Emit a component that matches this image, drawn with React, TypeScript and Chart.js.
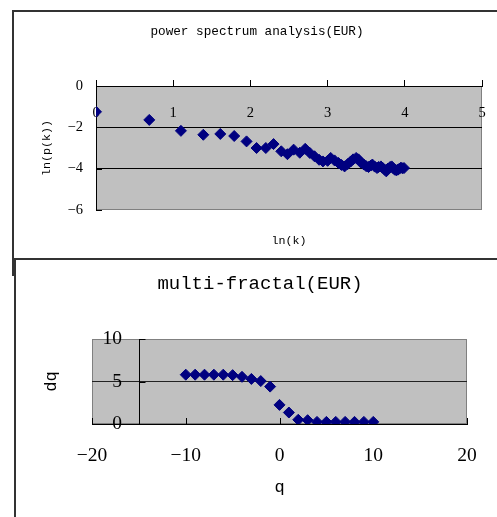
import React, { useEffect, useRef } from 'react';
import { Chart, registerables } from 'chart.js';

Chart.register(...registerables);

// ---- power spectrum (top chart) ----
const lnK = [0, 0.69, 1.10, 1.39, 1.61, 1.79, 1.95, 2.08, 2.20, 2.30, 2.40, 2.48, 2.56, 2.64, 2.71, 2.77, 2.83, 2.89, 2.94, 3.00, 3.04, 3.09, 3.14, 3.18, 3.22, 3.26, 3.30, 3.33, 3.37, 3.40, 3.43, 3.47, 3.50, 3.53, 3.56, 3.58, 3.61, 3.64, 3.66, 3.69, 3.71, 3.74, 3.76, 3.78, 3.81, 3.83, 3.85, 3.87, 3.89, 3.91, 3.93, 3.95, 3.97, 3.99];
const lnP = [-1.25, -1.64, -2.17, -2.36, -2.32, -2.42, -2.68, -3.0, -3.0, -2.81, -3.16, -3.3, -3.08, -3.23, -3.04, -3.24, -3.4, -3.57, -3.65, -3.62, -3.48, -3.6, -3.72, -3.82, -3.89, -3.78, -3.65, -3.55, -3.48, -3.55, -3.7, -3.8, -3.88, -3.92, -3.85, -3.8, -3.9, -3.97, -3.92, -3.89, -3.95, -4.05, -4.13, -4.0, -3.92, -3.89, -3.98, -4.05, -4.08, -4.05, -4.0, -3.95, -3.98, -3.97];
const topTitle = 'power spectrum analysis(EUR)';
const topXTitle = 'ln(k)';
const topYTitle = 'ln(p(k))';

// ---- multi-fractal (bottom chart) ----
const qVals = [-10, -9, -8, -7, -6, -5, -4, -3, -2, -1, 0, 1, 2, 3, 4, 5, 6, 7, 8, 9, 10];
const dqVals = [5.8, 5.8, 5.8, 5.8, 5.8, 5.75, 5.55, 5.3, 5.05, 4.4, 2.25, 1.35, 0.5, 0.45, 0.25, 0.25, 0.25, 0.25, 0.25, 0.25, 0.25];
const botTitle = 'multi-fractal(EUR)';
const botXTitle = 'q';
const botYTitle = 'dq';
const botYAxisAt = -15; // q value where the dq axis crosses
const botYLabelsAt = -16.8; // q value at which the dq tick labels end

const MONO = "'Liberation Mono', 'DejaVu Sans Mono', monospace";
const SERIF = "'Liberation Serif', 'DejaVu Serif', serif";
const MARKER = '#000080';

const fmtMinus = (v: any) => (Number(v) < 0 ? '\u2212' + Math.abs(Number(v)) : String(v));
const noPad = (s: any) => { s.paddingLeft = 0; s.paddingRight = 0; s.paddingTop = 0; s.paddingBottom = 0; };

const plotFrame = {
  id: 'plotFrame',
  beforeDraw(chart: any) {
    const { ctx, chartArea: a } = chart;
    ctx.save();
    ctx.fillStyle = '#C0C0C0';
    ctx.fillRect(a.left, a.top, a.right - a.left, a.bottom - a.top);
    ctx.strokeStyle = '#808080';
    ctx.lineWidth = 1;
    ctx.strokeRect(Math.round(a.left) + 0.5, Math.round(a.top) + 0.5, Math.round(a.right - a.left) - 1, Math.round(a.bottom - a.top) - 1);
    ctx.restore();
  },
};

const line = (ctx: any, x1: number, y1: number, x2: number, y2: number) => {
  ctx.beginPath();
  ctx.moveTo(x1, y1);
  ctx.lineTo(x2, y2);
  ctx.stroke();
};

const topInnerTicks = {
  id: 'topInnerTicks',
  beforeDatasetsDraw(chart: any) {
    const { ctx, chartArea: a, scales } = chart;
    const ys = scales.y;
    ctx.save();
    ctx.strokeStyle = '#000';
    ctx.lineWidth = 1;
    ys.ticks.forEach((t: any) => {
      const y = Math.round(ys.getPixelForValue(t.value)) + 0.5;
      line(ctx, a.left, y, a.left + 6, y);
    });
    ctx.restore();
  },
};

const botAxisAndTicks = {
  id: 'botAxisAndTicks',
  beforeDatasetsDraw(chart: any) {
    const { ctx, chartArea: a, scales } = chart;
    const xs = scales.x;
    const ys = scales.y;
    ctx.save();
    ctx.strokeStyle = '#000';
    ctx.lineWidth = 1;
    xs.ticks.forEach((t: any) => {
      const x = Math.round(xs.getPixelForValue(t.value)) + 0.5;
      line(ctx, x, a.bottom, x, a.bottom - 6);
    });
    const ax = Math.round(xs.getPixelForValue(botYAxisAt)) + 0.5;
    line(ctx, ax, a.top, ax, a.bottom);
    ys.ticks.forEach((t: any) => {
      const y = Math.round(ys.getPixelForValue(t.value)) + 0.5;
      line(ctx, ax, y, ax + 6, y);
    });
    ctx.restore();
  },
};

export default function App() {
  const topRef = useRef<HTMLCanvasElement>(null);
  const botRef = useRef<HTMLCanvasElement>(null);

  useEffect(() => {
    const topChart = new Chart(topRef.current as HTMLCanvasElement, {
      type: 'scatter',
      data: {
        datasets: [
          {
            data: lnK.map((x, i) => ({ x, y: lnP[i] })),
            pointStyle: 'rectRot',
            pointRadius: 5.5,
            pointHoverRadius: 5.5,
            backgroundColor: MARKER,
            borderColor: MARKER,
            borderWidth: 1,
            showLine: false,
          } as any,
        ],
      },
      options: {
        responsive: false,
        animation: false,
        devicePixelRatio: 1,
        events: [],
        layout: { padding: { left: 32, right: 15, top: 0, bottom: 0 } },
        plugins: {
          legend: { display: false },
          tooltip: { enabled: false },
          title: {
            display: true,
            text: topTitle,
            color: '#000',
            font: { family: MONO, size: 12.7, weight: 'normal', lineHeight: 1.2 },
            padding: { top: 24.4, bottom: 10 },
          },
        },
        scales: {
          x: {
            type: 'linear',
            position: 'top',
            min: 0,
            max: 5,
            ticks: {
              stepSize: 1,
              mirror: true,
              padding: 18.3,
              color: '#000',
              font: { family: SERIF, size: 14.5, lineHeight: 1.2 },
            },
            grid: { display: true, drawOnChartArea: false, drawTicks: true, tickLength: 6, color: '#000' },
            border: { display: true, color: '#000', width: 1 },
            afterFit: (s: any) => { s.height = 36.36; noPad(s); },
          },
          x2: {
            type: 'linear',
            axis: 'x',
            position: 'bottom',
            min: 0,
            max: 5,
            ticks: { display: false },
            grid: { display: false },
            border: { display: false },
            title: {
              display: true,
              text: topXTitle,
              color: '#000',
              font: { family: MONO, size: 11.7, lineHeight: 1.2 },
              padding: { top: 0, bottom: 10 },
            },
            afterFit: (s: any) => { s.height = 48; noPad(s); },
          },
          y: {
            type: 'linear',
            position: 'left',
            min: -6,
            max: 0,
            ticks: {
              stepSize: 2,
              padding: 13,
              color: '#000',
              font: { family: SERIF, size: 14.5, lineHeight: 1.2 },
              callback: fmtMinus,
            },
            grid: {
              drawTicks: false,
              lineWidth: 1,
              color: (c: any) => (c.tick && (c.tick.value === -2 || c.tick.value === -4) ? '#000' : 'rgba(0,0,0,0)'),
            },
            border: { display: true, color: '#000', width: 1 },
            title: {
              display: true,
              text: topYTitle,
              color: '#000',
              font: { family: MONO, size: 11.7, lineHeight: 1.2 },
              padding: { top: 7.5, bottom: 0 },
            },
            afterFit: (s: any) => { s.width = 64; noPad(s); },
          },
        } as any,
      },
      plugins: [plotFrame, topInnerTicks],
    });

    const botChart = new Chart(botRef.current as HTMLCanvasElement, {
      type: 'scatter',
      data: {
        datasets: [
          {
            data: qVals.map((x, i) => ({ x, y: dqVals[i] })),
            xAxisID: 'x',
            yAxisID: 'y',
            pointStyle: 'rectRot',
            pointRadius: 5.5,
            pointHoverRadius: 5.5,
            backgroundColor: MARKER,
            borderColor: MARKER,
            borderWidth: 1,
            showLine: false,
          } as any,
        ],
      },
      options: {
        responsive: false,
        animation: false,
        devicePixelRatio: 1,
        events: [],
        layout: { padding: { left: 53, right: 30, top: 0, bottom: 0 } },
        plugins: {
          legend: { display: false },
          tooltip: { enabled: false },
          title: {
            display: true,
            text: botTitle,
            color: '#000',
            font: { family: MONO, size: 19, weight: 'normal', lineHeight: 1.2 },
            padding: { top: 14.6, bottom: 43.6 },
          },
        },
        scales: {
          x: {
            type: 'linear',
            position: 'bottom',
            min: -20,
            max: 20,
            ticks: {
              stepSize: 10,
              padding: 20.3,
              color: '#000',
              font: { family: SERIF, size: 19.5, lineHeight: 1.2 },
              callback: fmtMinus,
            },
            grid: { display: true, drawOnChartArea: false, drawTicks: false },
            border: { display: true, color: '#000', width: 1 },
            title: {
              display: true,
              text: botXTitle,
              color: '#000',
              font: { family: MONO, size: 17, lineHeight: 1.2 },
              padding: { top: 0, bottom: 19.8 },
            },
            afterFit: (s: any) => { s.height = 93; noPad(s); },
          },
          y2: {
            type: 'linear',
            axis: 'y',
            position: 'left',
            min: 0,
            max: 10,
            ticks: { display: false },
            grid: { display: false },
            border: { display: false },
            title: {
              display: true,
              text: botYTitle,
              color: '#000',
              font: { family: MONO, size: 17, lineHeight: 1.2 },
              padding: { top: -11.5, bottom: 0 },
            },
            afterFit: (s: any) => { s.width = 39; noPad(s); },
          },
          y: {
            type: 'linear',
            axis: 'y',
            position: { x: botYLabelsAt },
            min: 0,
            max: 10,
            ticks: {
              stepSize: 5,
              padding: 0,
              color: '#000',
              font: { family: SERIF, size: 19.5, lineHeight: 1.2 },
            },
            grid: {
              drawTicks: false,
              lineWidth: 1,
              color: (c: any) => (c.tick && c.tick.value === 5 ? '#222' : 'rgba(0,0,0,0)'),
            },
            border: { display: false },
          },
        } as any,
      },
      plugins: [plotFrame, botAxisAndTicks],
    });

    return () => {
      topChart.destroy();
      botChart.destroy();
    };
  }, []);

  return (
    <div style={{ position: 'absolute', left: 0, top: 0, width: 497, height: 517, overflow: 'hidden', background: '#fff' }}>
      <div style={{ position: 'absolute', left: 12, top: 10, width: 530, height: 266, border: '2px solid #333', boxSizing: 'border-box', background: '#fff' }} />
      <canvas ref={topRef} width={497} height={258} style={{ position: 'absolute', left: 0, top: 0 }} />
      <div style={{ position: 'absolute', left: 14, top: 258, width: 530, height: 300, border: '2px solid #333', boxSizing: 'border-box', background: '#fff' }} />
      <canvas ref={botRef} width={497} height={259} style={{ position: 'absolute', left: 0, top: 258 }} />
    </div>
  );
}
